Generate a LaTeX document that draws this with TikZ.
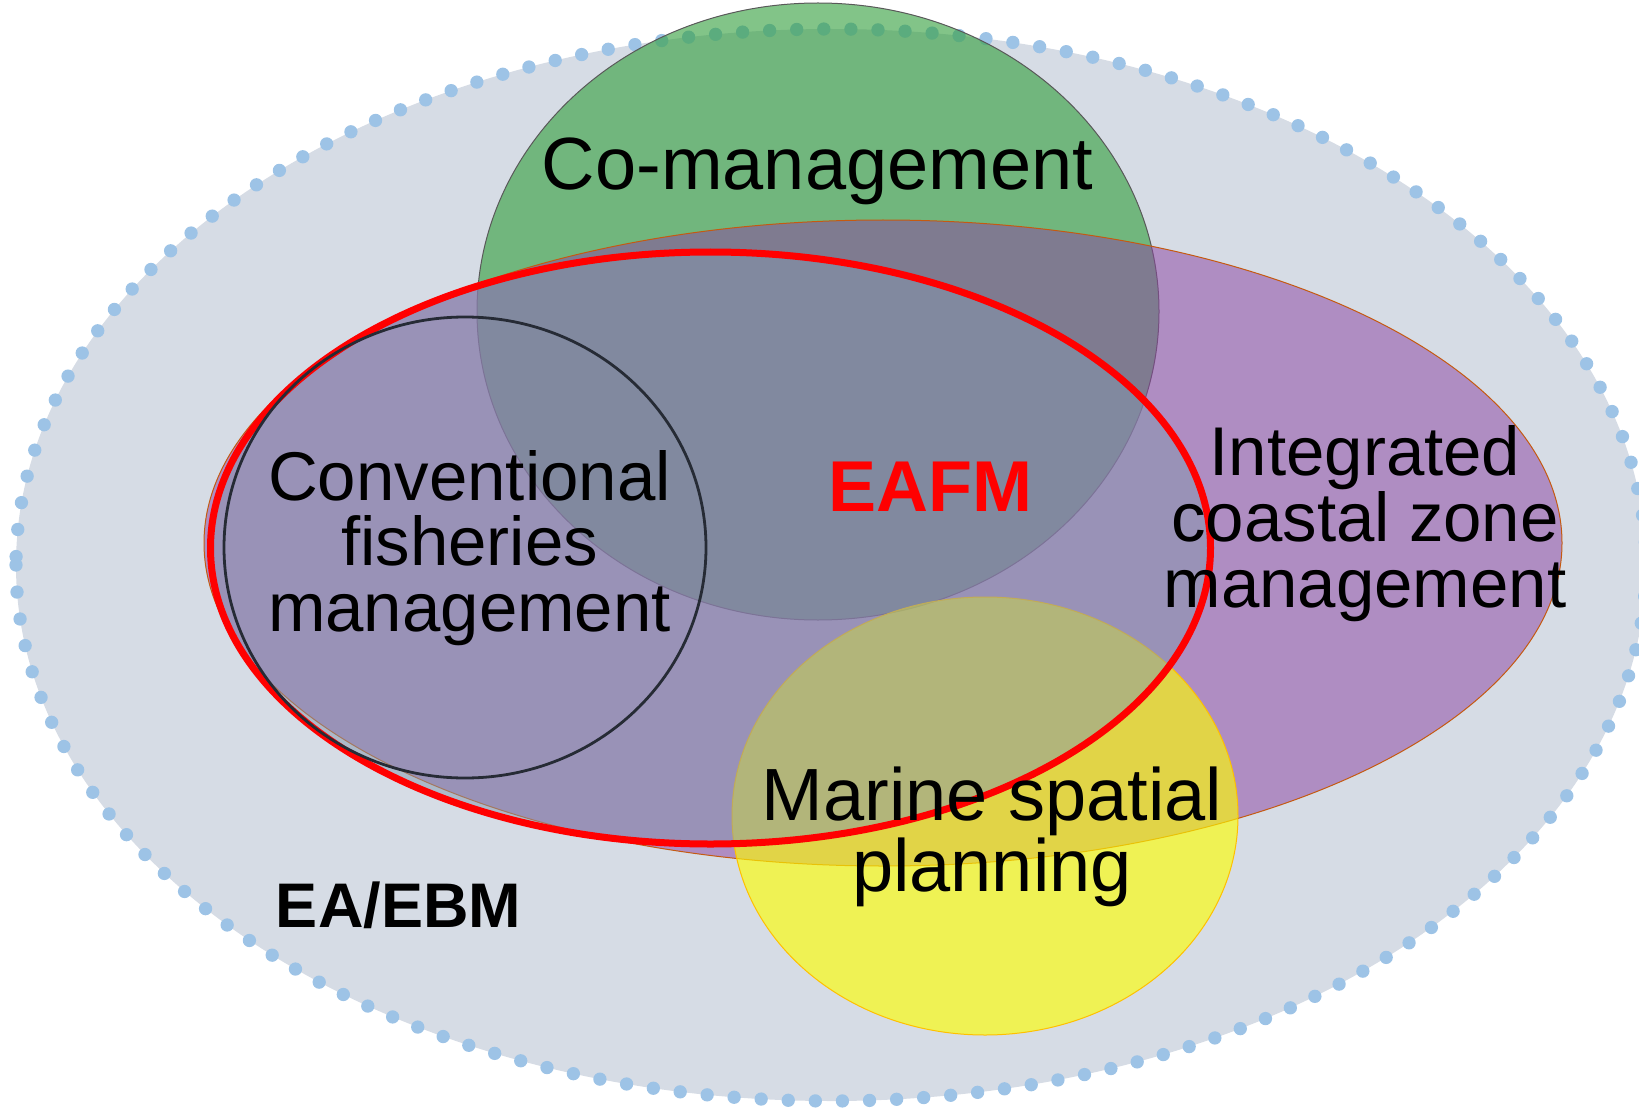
\documentclass[tikz,border=0pt]{standalone}
\usepackage{fontspec}
\setmainfont{Liberation Sans}
\definecolor{outerfill}{RGB}{214,220,229}
\definecolor{dotblue}{RGB}{157,195,230}
\definecolor{cogreen}{RGB}{47,157,57}
\definecolor{coborder}{RGB}{89,89,89}
\definecolor{iczmpurple}{RGB}{141,70,163}
\definecolor{iczmborder}{RGB}{197,90,17}
\definecolor{mspyellow}{RGB}{255,255,0}
\definecolor{mspborder}{RGB}{255,192,0}
\definecolor{eafmfill}{RGB}{132,151,174}
\definecolor{eafmred}{RGB}{255,0,0}
\definecolor{convline}{RGB}{38,43,53}
\tikzset{
  lbl/.style={anchor=base, inner sep=0pt, text=black},
  big/.style={lbl, font=\fontsize{69}{66}\selectfont},
}
\begin{document}
\begin{tikzpicture}[x=1pt,y=-1pt]
\useasboundingbox (0,0) rectangle (1639,1110);
% EA/EBM outer ellipse
\fill[outerfill] (831,565) ellipse [x radius=815pt, y radius=536pt];
\draw[dotblue, line width=13.3pt, line cap=round, dash pattern=on 0pt off 27.1pt]
  (16,565) arc [start angle=180, end angle=540, x radius=815pt, y radius=536pt];
% Co-management
\draw[coborder, line width=1pt, fill=cogreen, fill opacity=0.6]
  (818,311.5) ellipse [x radius=341pt, y radius=308.5pt];
% Integrated coastal zone management
\draw[iczmborder, line width=1pt, fill=iczmpurple, fill opacity=0.52]
  (883,543) ellipse [x radius=679pt, y radius=323pt];
% Marine spatial planning
\draw[mspborder, line width=1pt, fill=mspyellow, fill opacity=0.63]
  (985,816) ellipse [x radius=253pt, y radius=219pt];
% EAFM
\draw[eafmred, line width=7pt, fill=eafmfill, fill opacity=0.5]
  (710.5,548) ellipse [x radius=500pt, y radius=296pt];
% Conventional fisheries management
\draw[convline, line width=2.8pt]
  (465,547.5) ellipse [x radius=241pt, y radius=230.5pt];
% Labels
\node[lbl, font=\fontsize{74}{74}\selectfont] (co) at (817.5,190) {Co-management};
\node[big] (conv1) at (469.5,500) {Conventional};
\node[big] (conv2) at (469.5,565) {fisheries};
\node[big] (conv3) at (469.5,631) {management};
\node[lbl, font=\fontsize{72}{72}\selectfont\bfseries, text=eafmred] (eafm) at (930,511) {EAFM};
\node[big] (iczm1) at (1365,475) {Integrated};
\node[big] (iczm2) at (1365,541) {coastal zone};
\node[big] (iczm3) at (1365,607) {management};
\node[lbl, font=\fontsize{74}{74}\selectfont] (msp1) at (992,820) {Marine spatial};
\node[lbl, font=\fontsize{74}{74}\selectfont] (msp2) at (992,891) {planning};
\node[lbl, font=\fontsize{63}{63}\selectfont\bfseries] (ea) at (398.5,927) {EA/EBM};
\end{tikzpicture}
\end{document}
